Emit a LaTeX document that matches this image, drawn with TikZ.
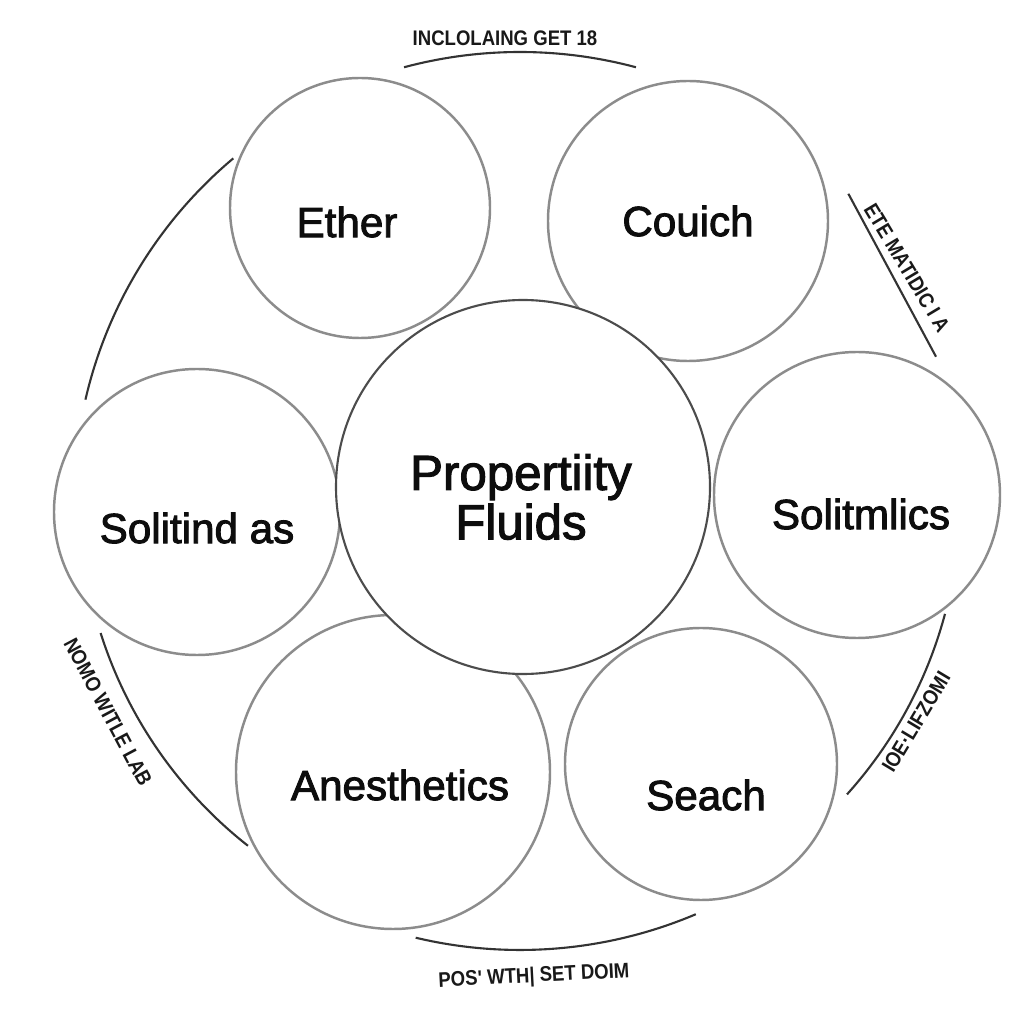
\documentclass[tikz,border=0pt]{standalone}
\usepackage{fontspec}
\setmainfont{Liberation Sans}
\newfontfamily\wordfont[FakeBold=2.2]{Liberation Sans}
\newfontfamily\tagfont[FakeStretch=0.88]{Liberation Sans}
\usetikzlibrary{calc}

\begin{document}
\begin{tikzpicture}[
	bub/.style={circle, draw=black!45, line width=0.7pt, inner sep=0pt},
	hubbub/.style={circle, draw=black!70, fill=white, line width=0.6pt, inner sep=0pt},
	word/.style={inner sep=0pt, text=black!95, font=\wordfont\fontsize{12}{14}\selectfont},
	ring/.style={line width=0.6pt, color=black!80},
	tag/.style={inner sep=0pt, text=black!90, font=\tagfont\bfseries\fontsize{6}{7}\selectfont}
]
	%%%%% START %%%%%
	
	\fill[white] (0,0) rectangle (10.24,10.24);
	\useasboundingbox (0,0) rectangle (10.24,10.24);
	\coordinate (hub) at (5.20,5.24);
	
	\node[bub, minimum size=2.60cm] (ether) at (3.60,8.16) {};
	\node[bub, minimum size=2.80cm] (couich) at (6.88,8.03) {};
	\node[bub, minimum size=2.86cm] (solitind) at (1.97,5.12) {};
	\node[bub, minimum size=2.86cm] (solitmlics) at (8.57,5.29) {};
	\node[bub, minimum size=3.14cm] (anesth) at (3.93,2.52) {};
	\node[bub, minimum size=2.72cm] (seach) at (7.01,2.60) {};
	
	\node[hubbub, minimum size=3.74cm] (fluids) at (5.23,5.37) {};
	
	\node[word] (ether-t) at ([shift={(-0.13,-0.14)}]ether.center) {Ether};
	\node[word] (couich-t) at (couich.center) {Couich};
	\node[word] (solitind-t) at ([shift={(0,-0.16)}]solitind.center) {Solitind as};
	\node[word] (solitmlics-t) at ([shift={(0.04,-0.19)}]solitmlics.center) {Solitmlics};
	\node[word] (anesth-t) at ([shift={(0.07,-0.13)}]anesth.center) {Anesthetics};
	\node[word] (seach-t) at ([shift={(0.05,-0.31)}]seach.center) {Seach};
	\node[word, align=center, font=\wordfont\fontsize{14}{12}\selectfont] (fluids-t) at ([shift={(-0.02,-0.10)}]fluids.center) {Propertiity\\Fluids};
	
	% outer ring pieces
	\draw[ring] ([shift={(105:4.48)}]hub) arc[start angle=105, end angle=75, radius=4.48];
	\draw[ring] ([shift={(130:4.46)}]hub) arc[start angle=130, end angle=167, radius=4.46];
	\draw[ring] ([shift={(43:4.49)}]hub) -- ([shift={(19:4.40)}]hub);
	\draw[ring] ([shift={(-15:4.40)}]hub) arc[start angle=-15, end angle=-42, radius=4.40];
	\draw[ring] ([shift={(197.6:4.40)}]hub) arc[start angle=197.6, end angle=231.8, radius=4.40];
	\draw[ring] ([shift={(256.6:4.50)}]hub) arc[start angle=256.6, end angle=293, radius=4.50];
	
	\node[tag] (tag-top) at (5.05,9.86) {INCLOLAING GET 18};
	\node[tag, rotate=-59] (tag-ne) at (9.07,7.56) {ETE MATIDIC I A};
	\node[tag, rotate=59] (tag-se) at (9.16,3.02) {IOE·LIFZOMI};
	\node[tag, rotate=-62] (tag-sw) at (1.08,3.12) {NOMO WITLE LAB};
	\node[tag, rotate=3] (tag-bot) at (5.34,0.47) {POS' WTH| SET DOIM};
	
	%%%%% END %%%%%
\end{tikzpicture}
\end{document}
